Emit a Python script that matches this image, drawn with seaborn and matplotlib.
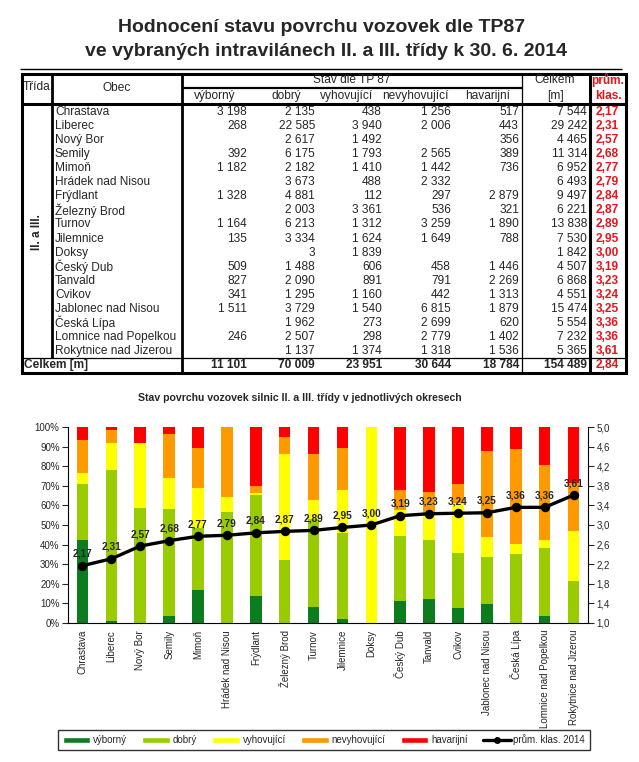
import numpy as np
import pandas as pd
import matplotlib
matplotlib.use('Agg')
import matplotlib.pyplot as plt
from matplotlib import font_manager
from matplotlib.lines import Line2D
from matplotlib.patches import Patch, Rectangle
import seaborn as sns

# data z tabulky (delky v m)
obce = ['Chrastava', 'Liberec', 'Nový Bor', 'Semily', 'Mimoň', 'Hrádek nad Nisou',
        'Frýdlant', 'Železný Brod', 'Turnov', 'Jilemnice', 'Doksy', 'Český Dub',
        'Tanvald', 'Cvikov', 'Jablonec nad Nisou', 'Česká Lípa',
        'Lomnice nad Popelkou', 'Rokytnice nad Jizerou']
vyborny = [3198, 268, 0, 392, 1182, 0, 1328, 0, 1164, 135, 0, 509, 827, 341, 1511, 0, 246, 0]
dobry = [2135, 22585, 2617, 6175, 2182, 3673, 4881, 2003, 6213, 3334, 3, 1488, 2090, 1295,
         3729, 1962, 2507, 1137]
vyhovujici = [438, 3940, 1492, 1793, 1410, 488, 112, 3361, 1312, 1624, 1839, 606, 891, 1160,
              1540, 273, 298, 1374]
nevyhovujici = [1256, 2006, 0, 2565, 1442, 2332, 297, 536, 3259, 1649, 0, 458, 791, 442,
                6815, 2699, 2779, 1318]
havarijni = [517, 443, 356, 389, 736, 0, 2879, 321, 1890, 788, 0, 1446, 2269, 1313, 1879,
             620, 1402, 1536]
celkem = [7544, 29242, 4465, 11314, 6952, 6493, 9497, 6221, 13838, 7530, 1842, 4507, 6868,
          4551, 15474, 5554, 7232, 5365]
prum = [2.17, 2.31, 2.57, 2.68, 2.77, 2.79, 2.84, 2.87, 2.89, 2.95, 3.00, 3.19, 3.23, 3.24,
        3.25, 3.36, 3.36, 3.61]
soucty = [11101, 70009, 23951, 30644, 18784, 154489]
prum_celkem = 2.84

kategorie = ['výborný', 'dobrý', 'vyhovující', 'nevyhovující', 'havarijní']
barvy = ['#0B7D1E', '#99CC00', '#FFFF00', '#FF9900', '#FF0000']

df = pd.DataFrame({'obec': obce, 'výborný': vyborny, 'dobrý': dobry,
                   'vyhovující': vyhovujici, 'nevyhovující': nevyhovujici,
                   'havarijní': havarijni, 'celkem': celkem, 'prum': prum})

sns.set_style('white')
plt.rcParams['font.family'] = ['Liberation Sans', 'DejaVu Sans']

W, H = 639, 762
fig = plt.figure(figsize=(W / 100, H / 100), dpi=100)


def fx(px):
    return px / W


def fy(py):
    return 1 - py / H


def txt(x, y, s, **kw):
    kw.setdefault('va', 'center')
    fig.text(fx(x), fy(y), s, **kw)


def hline(y, x0, x1, lw=0.8):
    fig.add_artist(Line2D([fx(x0), fx(x1)], [fy(y), fy(y)], color='black', lw=lw,
                          solid_capstyle='butt'))


def vline(x, y0, y1, lw=0.8):
    fig.add_artist(Line2D([fx(x), fx(x)], [fy(y0), fy(y1)], color='black', lw=lw,
                          solid_capstyle='butt'))


def fmt(v):
    return '' if not v else f'{v:,}'.replace(',', ' ')


# nadpis
names = {f.name for f in font_manager.fontManager.ttflist}
if 'Liberation Sans Narrow' in names:
    tfont, tsize = ['Liberation Sans Narrow', 'Liberation Sans'], 15.5
else:
    tfont, tsize = ['Liberation Sans', 'DejaVu Sans'], 14
txt(322, 27, 'Hodnocení stavu povrchu vozovek dle TP87', ha='center', fontsize=tsize,
    fontweight='bold', family=tfont)
txt(326, 52, 've vybraných intravilánech II. a III. třídy k 30. 6. 2014', ha='center',
    fontsize=tsize, fontweight='bold', family=tfont)
hline(69, 20, 622, lw=1.0)

# tabulka
fs = 8.6
red = '#E8141B'
fig.add_artist(Rectangle((fx(22), fy(373)), fx(626) - fx(22), fy(74) - fy(373),
                         fill=False, lw=2.2, edgecolor='black', transform=fig.transFigure))
hline(104, 22, 626, lw=2.2)
hline(88, 182, 522, lw=1.6)
hline(358, 22, 626, lw=0.9)
vline(52, 74, 358, lw=2.0)
vline(182, 74, 373, lw=2.0)
vline(522, 74, 373, lw=0.9)
vline(590, 74, 373, lw=2.2)

txt(37, 87, 'Třída', ha='center', fontsize=fs)
txt(117, 88, 'Obec', ha='center', fontsize=fs)
txt(352, 80, 'Stav dle TP 87', ha='center', fontsize=fs)
for x, s in zip([215, 286, 347, 415, 488], kategorie):
    txt(x, 96, s, ha='center', fontsize=fs)
txt(555, 80, 'Celkem', ha='center', fontsize=fs)
txt(555, 96, '[m]', ha='center', fontsize=fs)
txt(608, 80, 'prům.', ha='center', fontsize=fs, color=red, fontweight='bold')
txt(608, 96, 'klas.', ha='center', fontsize=fs, color=red, fontweight='bold')
txt(37, 232, 'II. a III.', ha='center', fontsize=fs, fontweight='bold', rotation=90)

col_x = [247, 315, 382, 451, 519, 587]
for i, row in df.iterrows():
    y = 112 + 14.06 * i
    txt(55, y, row['obec'], ha='left', fontsize=fs)
    vals = [row[k] for k in kategorie] + [row['celkem']]
    for x, v in zip(col_x, vals):
        txt(x, y, fmt(v), ha='right', fontsize=fs)
    txt(619, y, f"{row['prum']:.2f}".replace('.', ','), ha='right', fontsize=fs,
        color=red, fontweight='bold')

txt(24, 365, 'Celkem [m]', ha='left', fontsize=fs, fontweight='bold')
for x, v in zip(col_x, soucty):
    txt(x, 365, fmt(v), ha='right', fontsize=fs, fontweight='bold')
txt(619, 365, f'{prum_celkem:.2f}'.replace('.', ','), ha='right', fontsize=fs,
    color=red, fontweight='bold')

# graf
txt(300, 398, 'Stav povrchu vozovek silnic II. a III. třídy v jednotlivých okresech',
    ha='center', fontsize=7.6, fontweight='bold')

ax = fig.add_axes([fx(68), fy(623), fx(588) - fx(68), fy(427) - fy(623)])
podil = df[kategorie].div(df['celkem'], axis=0) * 100
kum = podil.cumsum(axis=1)
kum['obec'] = obce

for kat, barva in reversed(list(zip(kategorie, barvy))):
    sns.barplot(data=kum, x='obec', y=kat, order=obce, color=barva, saturation=1,
                width=0.4, linewidth=0, ax=ax)

ax2 = ax.twinx()
sns.pointplot(data=df, x='obec', y='prum', order=obce, color='black', markers='o',
              markersize=5, linewidth=2.4, errorbar=None, ax=ax2)
for i, v in enumerate(prum):
    ax2.annotate(f'{v:.2f}'.replace('.', ','), (i, v), xytext=(0, 5),
                 textcoords='offset points', ha='center', va='bottom',
                 fontsize=7.3, fontweight='bold')

ax.set_xlim(-0.5, len(obce) - 0.5)
ax.set_ylim(0, 100)
ax2.set_ylim(1, 5)
ax.set_yticks(np.arange(0, 101, 10))
ax.set_yticklabels([f'{v}%' for v in range(0, 101, 10)], fontsize=7)
rticks = np.round(np.arange(1, 5.01, 0.4), 1)
ax2.set_yticks(rticks)
ax2.set_yticklabels([f'{v:.1f}'.replace('.', ',') for v in rticks], fontsize=7)

ax.set_xticks(range(len(obce)))
ax.set_xticklabels(obce, rotation=90, fontsize=7)
ax.set_xticks(np.arange(-0.5, len(obce), 1), minor=True)
ax.tick_params(axis='x', which='major', length=0, pad=5)
ax.tick_params(axis='x', which='minor', length=4, width=0.8, direction='out')
ax.tick_params(axis='y', length=4, width=0.8, direction='out', pad=2, left=True)
ax2.tick_params(axis='y', length=4, width=0.8, direction='out', pad=2, right=True)

for a in (ax, ax2):
    a.set_xlabel('')
    a.set_ylabel('')
    a.spines['top'].set_visible(False)
ax.spines['right'].set_visible(False)
ax2.spines['left'].set_visible(False)
for sp in ['left', 'bottom']:
    ax.spines[sp].set_linewidth(0.8)
    ax.spines[sp].set_color('black')
ax2.spines['right'].set_linewidth(0.8)
ax2.spines['right'].set_color('black')
ax2.spines['bottom'].set_visible(False)

handles = [Patch(facecolor=c, label=k) for k, c in zip(kategorie, barvy)]
handles.append(Line2D([0], [0], color='black', lw=2.4, marker='o', markersize=4,
                      label='prům. klas. 2014'))
leg = fig.legend(handles=handles, loc='center', bbox_to_anchor=(fx(324), fy(740)), ncol=6,
                 fontsize=7, frameon=True, fancybox=False, edgecolor='black',
                 handlelength=2.8, handleheight=0.6, columnspacing=1.6,
                 handletextpad=0.3, borderpad=0.5)
leg.get_frame().set_linewidth(1.0)

fig.savefig('out.png', dpi=100, facecolor='white')
